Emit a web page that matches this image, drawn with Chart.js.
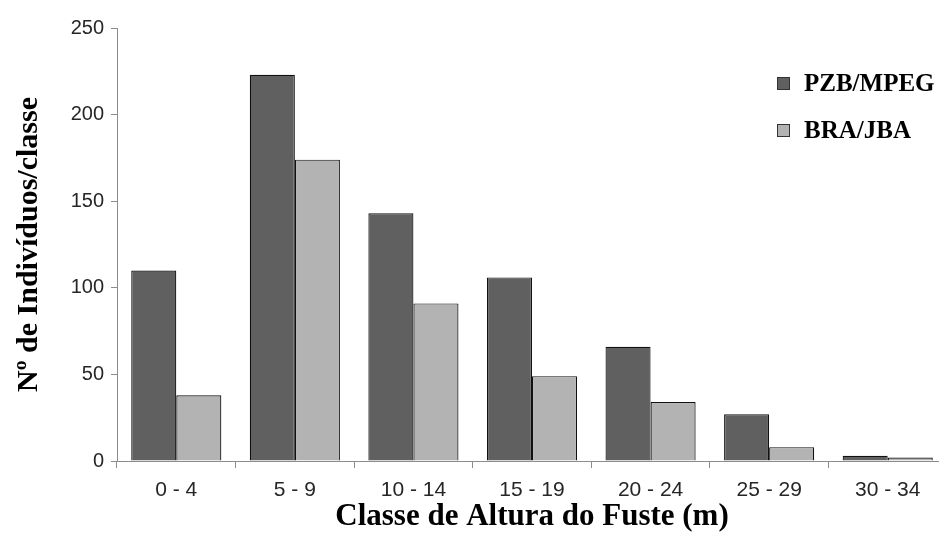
<!DOCTYPE html>
<html>
<head>
<meta charset="utf-8">
<script src="https://cdn.jsdelivr.net/npm/chart.js@4/dist/chart.umd.min.js"></script>
<style>
  html, body { margin: 0; padding: 0; background: #ffffff; overflow: hidden; }
  #wrap { width: 950px; height: 543px; }
</style>
</head>
<body>
<div id="wrap"><canvas id="c" width="950" height="543"></canvas></div>
<script>
const categories = ["0 - 4", "5 - 9", "10 - 14", "15 - 19", "20 - 24", "25 - 29", "30 - 34"];
const seriesNames = ["PZB/MPEG", "BRA/JBA"];
const pzbMpeg = [110, 223, 143, 106, 66, 27, 3];
const braJba = [38, 174, 91, 49, 34, 8, 2];
const yTicks = [0, 50, 100, 150, 200, 250];

const legendPlugin = {
  id: 'customLegend',
  afterDraw(chart) {
    const ctx = chart.ctx;
    ctx.save();
    const x0 = 777, ys = [83.5, 130.5];
    chart.data.datasets.forEach((ds, i) => {
      const y = ys[i];
      ctx.fillStyle = ds.backgroundColor;
      ctx.fillRect(x0, y - 6.5, 13, 13);
      ctx.strokeStyle = '#333333';
      ctx.lineWidth = 1;
      ctx.strokeRect(x0 + 0.5, y - 6, 12, 12);
      ctx.fillStyle = '#000000';
      ctx.font = 'bold 25px "Liberation Serif", "Times New Roman", serif';
      ctx.textBaseline = 'middle';
      ctx.textAlign = 'left';
      ctx.fillText(ds.label, 804, y + 1);
    });
    ctx.restore();
  }
};

new Chart(document.getElementById('c'), {
  type: 'bar',
  data: {
    labels: categories,
    datasets: [
      { label: seriesNames[0], data: pzbMpeg, backgroundColor: '#606060', borderColor: '#111111', borderWidth: 1.2 },
      { label: seriesNames[1], data: braJba, backgroundColor: '#b3b3b3', borderColor: '#111111', borderWidth: 1.2 }
    ]
  },
  options: {
    responsive: false,
    animation: false,
    datasets: { bar: { categoryPercentage: 0.76, barPercentage: 1.0 } },
    layout: { padding: { top: 28, right: 3, left: 0, bottom: 0 } },
    plugins: { legend: { display: false }, tooltip: { enabled: false } },
    scales: {
      x: {
        grid: { display: true, drawOnChartArea: false, offset: true, tickLength: 7, color: '#8c8c8c', tickColor: '#8c8c8c' },
        border: { display: true, color: '#8c8c8c', width: 1 },
        ticks: { color: '#262626', font: { family: '"Liberation Sans", Arial, sans-serif', size: 21 }, padding: 10, maxRotation: 0 },
        title: { display: true, text: 'Classe de Altura do Fuste (m)', color: '#000000', font: { family: '"Liberation Serif", "Times New Roman", serif', size: 31, weight: 'bold' }, padding: { top: 0, bottom: 7 } },
        afterFit(s) { s.height = 82; }
      },
      y: {
        min: 0, max: 250,
        afterBuildTicks(s) { s.ticks = yTicks.map(v => ({ value: v })); },
        grid: { display: true, drawOnChartArea: false, tickLength: 6, color: '#8c8c8c', tickColor: '#8c8c8c' },
        border: { display: true, color: '#8c8c8c', width: 1 },
        ticks: { color: '#262626', font: { family: '"Liberation Sans", Arial, sans-serif', size: 20 }, padding: 7 },
        title: { display: true, text: 'Nº de Indivíduos/classe', color: '#000000', font: { family: '"Liberation Serif", "Times New Roman", serif', size: 30, weight: 'bold' }, padding: { top: 11, bottom: 0 } },
        afterFit(s) { s.width = 117; }
      }
    }
  },
  plugins: [legendPlugin]
});
</script>
</body>
</html>
